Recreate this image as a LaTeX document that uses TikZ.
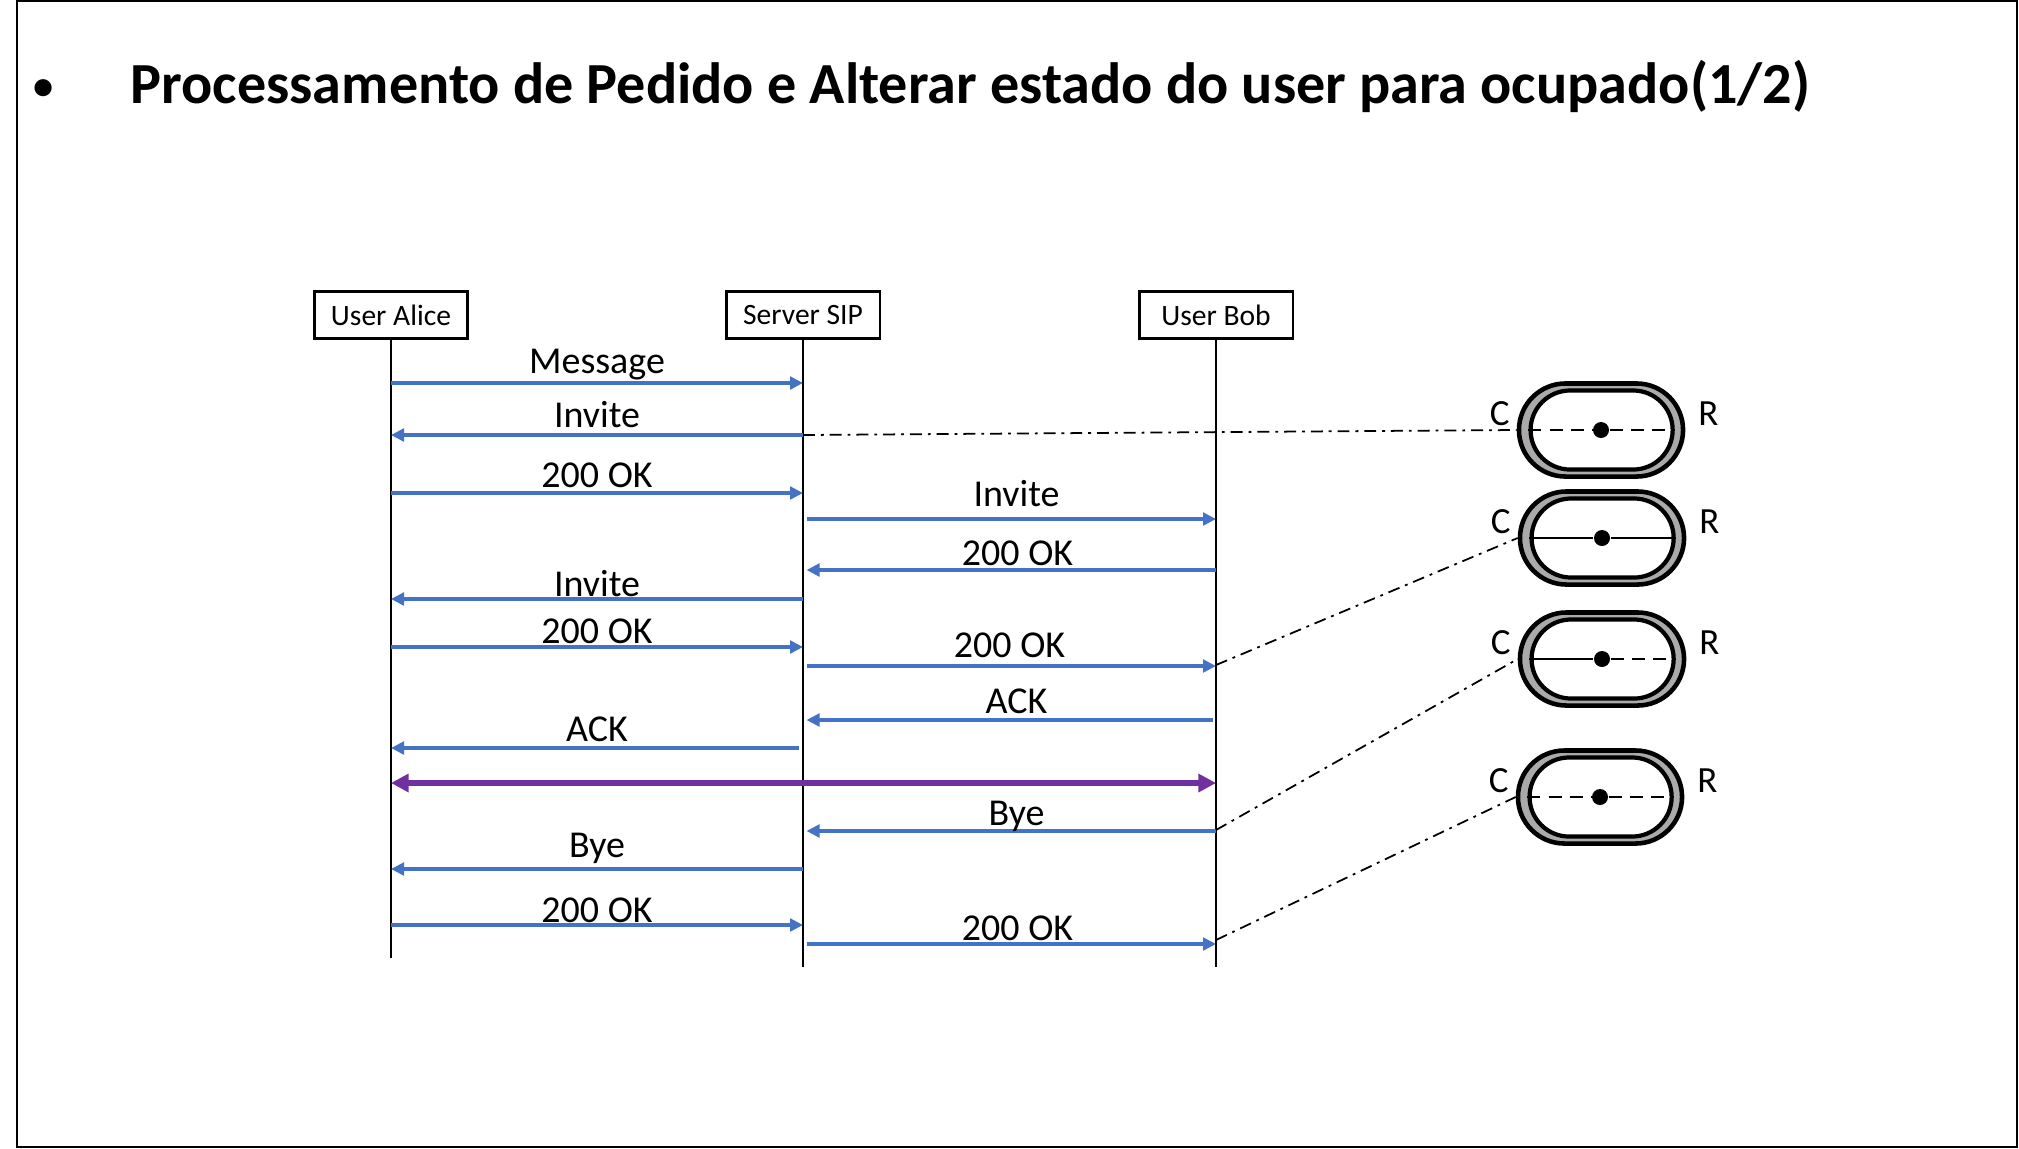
\documentclass[tikz,border=0pt]{standalone}
\usepackage{fontspec}
\setmainfont{Carlito}
\usetikzlibrary{arrows.meta,shapes.misc}
\definecolor{msgblue}{HTML}{4472C4}
\definecolor{talkpurple}{HTML}{7030A0}
\definecolor{ringgray}{HTML}{ABA9A9}
\begin{document}
\begin{tikzpicture}[x=0.01cm, y=-0.01cm,
    actor/.style={draw, line width=0.6pt, minimum width=1.53cm, minimum height=0.47cm, inner sep=0pt, font=\fontsize{8.4}{10}\selectfont},
    life/.style={line width=0.7pt},
    msg/.style={msgblue, line width=0.95pt, -{Triangle[length=3.7pt,width=3.6pt]}},
    lbl/.style={midway, above, text depth=0pt, inner sep=2pt, text=black, font=\fontsize{10.8}{12}\selectfont},
    talk/.style={talkpurple, line width=1.5pt, {Triangle[length=5pt,width=5pt]}-{Triangle[length=5pt,width=5pt]}},
    ringout/.style={rounded rectangle, draw, line width=1.3pt, fill=ringgray, minimum width=1.64cm, minimum height=0.93cm, inner sep=0pt},
    ringin/.style={rounded rectangle, draw, line width=1.2pt, fill=white, minimum width=1.42cm, minimum height=0.79cm, inner sep=0pt},
    centre/.style={circle, fill, inner sep=0pt, minimum size=0.16cm},
    dashpart/.style={line width=0.75pt, dash pattern=on 3.7pt off 2.3pt},
    solidpart/.style={line width=0.75pt},
    link/.style={line width=0.5pt, dash pattern=on 3.4pt off 1.7pt on 0.8pt off 1.7pt},
    cr/.style={font=\fontsize{10.5}{12}\selectfont, inner sep=0pt}]
\useasboundingbox (0,0) rectangle (2019,1148);
\draw[line width=0.75pt] (17,1) rectangle (2017,1147);

% heading
\node[anchor=base, inner sep=0pt, font=\fontsize{11.5}{14}\selectfont\bfseries] (bullet) at (44,99) {\textbullet};
\node[anchor=base west, inner sep=0pt, font=\fontsize{16.55}{20}\selectfont\bfseries] (title) at (130,103) {Processamento de Pedido e Alterar estado do user para ocupado(1/2)};

% participants and lifelines
\node[actor] (alice) at (391,315) {User Alice};
\node[actor] (srv) at (803,315) {Server SIP};
\node[actor] (bob) at (1216,315) {User Bob};
\coordinate (aliceend) at (391,958); \coordinate (srvend) at (803,967); \coordinate (bobend) at (1216,967);
\draw[life] (alice) -- (aliceend);
\draw[life] (srv) -- (srvend);
\draw[life] (bob) -- (bobend);

% messages
\draw[msg] (alice |- 0,383) -- node[lbl, yshift=0.2pt] {Message} (srv |- 0,383);
\draw[msg] (srv |- 0,435) -- node[lbl, yshift=-0.3pt] {Invite} (alice |- 0,435);
\draw[msg] (alice |- 0,493) -- node[lbl, yshift=-0.8pt] {200 OK} (srv |- 0,493);
\draw[msg, shorten <=1pt] (srv |- 0,519) -- node[lbl, yshift=1pt, xshift=0.07cm] {Invite} (bob |- 0,519);
\draw[msg, shorten >=1pt] (bob |- 0,570) -- node[lbl, yshift=-1.2pt, xshift=0.08cm] {200 OK} (srv |- 0,570);
\draw[msg] (srv |- 0,599) -- node[lbl, yshift=-1.7pt] {Invite} (alice |- 0,599);
\draw[msg] (alice |- 0,647) -- node[lbl, yshift=-1.4pt] {200 OK} (srv |- 0,647);
\draw[msg, shorten <=1pt] (srv |- 0,666) -- node[lbl, yshift=-0.1pt] {200 OK} (bob |- 0,666);
\draw[msg, shorten >=1pt, shorten <=1pt] (bob |- 0,720) -- node[lbl, yshift=-0.7pt, xshift=0.07cm] {ACK} (srv |- 0,720);
\draw[msg, shorten <=1pt] (srv |- 0,748) -- node[lbl, yshift=-0.7pt] {ACK} (alice |- 0,748);
\draw[talk] (alice |- 0,783) -- (bob |- 0,783);
\draw[msg, shorten >=1pt] (bob |- 0,831) -- node[lbl, yshift=-1pt, xshift=0.07cm] {Bye} (srv |- 0,831);
\draw[msg] (srv |- 0,869) -- node[lbl, yshift=0.7pt] {Bye} (alice |- 0,869);
\draw[msg] (alice |- 0,925) -- node[lbl, yshift=-1.8pt] {200 OK} (srv |- 0,925);
\draw[msg, shorten <=1pt] (srv |- 0,944) -- node[lbl, yshift=-1.5pt, xshift=0.08cm] {200 OK} (bob |- 0,944);

% call states C/R
\node[ringout] (s1) at (1601,430) {}; \node[ringin] (s1in) at ([xshift=0.006cm]s1.center) {};
\node[centre] (d1) at (s1) {};
\draw[dashpart] (s1in.west) -- (d1); \draw[dashpart] (d1) -- (s1in.east);
\node[cr] (c1) at ([xshift=-0.17cm, yshift=0.16cm]s1.west) {C}; \node[cr] (r1) at ([xshift=0.23cm, yshift=0.16cm]s1.east) {R};

\node[ringout] (s2) at (1602,538) {}; \node[ringin] (s2in) at ([xshift=0.006cm]s2.center) {};
\node[centre] (d2) at (s2) {};
\draw[solidpart] (s2in.west) -- (d2); \draw[solidpart] (d2) -- (s2in.east);
\node[cr] (c2) at ([xshift=-0.17cm, yshift=0.16cm]s2.west) {C}; \node[cr] (r2) at ([xshift=0.23cm, yshift=0.16cm]s2.east) {R};

\node[ringout] (s3) at (1602,659) {}; \node[ringin] (s3in) at ([xshift=0.006cm]s3.center) {};
\node[centre] (d3) at (s3) {};
\draw[solidpart] (s3in.west) -- (d3); \draw[dashpart] (d3) -- (s3in.east);
\node[cr] (c3) at ([xshift=-0.17cm, yshift=0.16cm]s3.west) {C}; \node[cr] (r3) at ([xshift=0.23cm, yshift=0.16cm]s3.east) {R};

\node[ringout] (s4) at (1600,797) {}; \node[ringin] (s4in) at ([xshift=0.006cm]s4.center) {};
\node[centre] (d4) at (s4) {};
\draw[dashpart] (s4in.west) -- (d4); \draw[dashpart] (d4) -- (s4in.east);
\node[cr] (c4) at ([xshift=-0.17cm, yshift=0.16cm]s4.west) {C}; \node[cr] (r4) at ([xshift=0.23cm, yshift=0.16cm]s4.east) {R};

% state links
\draw[link] (srv |- 0,435) -- (s1.west);
\draw[link] (bob |- 0,665) -- (s2.west);
\draw[link] (bob |- 0,830) -- (s3.west);
\draw[link] (bob |- 0,940) -- (s4.west);
\end{tikzpicture}
\end{document}
